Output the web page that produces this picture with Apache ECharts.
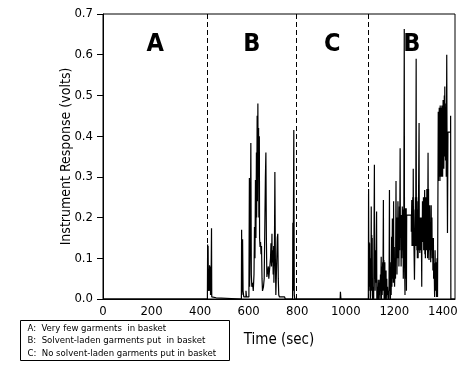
<!DOCTYPE html>
<html>
<head>
<meta charset="utf-8">
<script src="https://cdn.jsdelivr.net/npm/echarts@6/dist/echarts.min.js"></script>
<style>
html,body{margin:0;padding:0;background:#fff;}
#chart{width:467px;height:368px;}
</style>
</head>
<body>
<div id="chart"></div>
<script>
// ---- data ----
const xTicks = [0, 200, 400, 600, 800, 1000, 1200, 1400];
const yTicks = [0.0, 0.1, 0.2, 0.3, 0.4, 0.5, 0.6, 0.7];
const regionBounds = [0, 431, 795, 1094, 1450];      // seconds; inner ones are the dashed lines
const regionNames = ['A', 'B', 'C', 'B'];
const legendNotes = [
  'A:  Very few garments  in basket',
  'B:  Solvent-laden garments put  in basket',
  'C:  No solvent-laden garments put in basket'
];
// [time (sec), response (volts)]
const signalEarly = [
  [0,0],[430,0],
  [431,0.134],[432,0.02],[433,0.13],[434,0.035],[436,0.02],[437,0.03],[439,0.083],[440,0.02],[442,0.08],[443,0.01],[445,0.03],[447,0.174],[448,0.005],[452,0.003],[466,0.003],[468,0],
  [570,0],[571,0.17],[572,0.01],[575,0.147],[577,0.02],[580,0.005],[589,0.02],[591,0.005],[601,0.01],[603,0.297],[604,0.03],[607,0.162],[609,0.383],[611,0.06],[613,0.03],[616,0.04],[619,0.02],[622,0.06],[624,0.177],[626,0.10],[628,0.292],[630,0.15],[632,0.36],[633,0.2],[635,0.45],[636,0.24],[638,0.48],[639,0.30],[641,0.42],[642,0.20],[644,0.40],[645,0.15],[647,0.128],[649,0.14],[651,0.11],[653,0.13],[655,0.05],[657,0.02],[661,0.03],[664,0.05],[667,0.20],[669,0.30],[671,0.36],[673,0.15],[675,0.054],[681,0.08],[683,0.05],[688,0.05],[690,0.10],[692,0.137],[694,0.08],[696,0.16],[697,0.09],[699,0.12],[701,0.06],[703,0.13],[704,0.04],[706,0.1],[708,0.312],[710,0.1],[712,0.01],[715,0.08],[718,0.15],[720,0.16],[722,0.05],[724,0.01],[727,0.005],[748,0.005],[751,0],
  [781,0],[782,0.187],[783,0.02],[786,0.415],[788,0.01],[790,0],
  [977,0],[978,0.018],[980,0],[1093,0]
];
const signalLate = [
  [1094,0.27],[1095,0.10],[1096,0.14],[1097,0.03],[1098,0.137],[1099,0.02],[1100,0.10],[1101,0.0],[1102,0.01],[1104,0.08],[1105,0.227],[1106,0.02],[1107,0.157],[1108,0.05],[1109,0.15],[1110,0.0],[1113,0.03],[1115,0.0],
  [1118,0.33],[1119,0.05],[1120,0.12],[1121,0.02],[1122,0.12],[1123,0.04],[1125,0.10],[1127,0.215],[1128,0.0],[1131,0.03],[1132,0.0],[1134,0.047],[1135,0.0],[1137,0.04],[1138,0.01],[1140,0.047],[1141,0.0],[1143,0.06],[1144,0.02],[1146,0.104],[1147,0.0],[1149,0.08],[1150,0.01],[1152,0.09],[1153,0.02],[1155,0.243],[1156,0.03],[1157,0.096],[1158,0.0],[1159,0.07],[1160,0.01],[1161,0.09],[1162,0.0],[1163,0.06],[1164,0.02],[1166,0.07],[1167,0.0],[1169,0.05],[1170,0.01],[1172,0.03],[1174,0.0],[1176,0.02],[1178,0.0],
  [1180,0.268],[1181,0.02],[1183,0.05],[1184,0.0],[1186,0.09],[1187,0.01],[1189,0.153],[1190,0.03],[1192,0.198],[1193,0.05],[1195,0.13],[1196,0.04],[1197,0.24],[1198,0.06],[1200,0.128],[1201,0.03],[1203,0.09],[1205,0.05],[1207,0.29],[1208,0.10],[1210,0.15],[1211,0.06],[1212,0.20],[1213,0.10],[1215,0.24],[1216,0.10],[1218,0.20],[1219,0.08],[1221,0.227],[1222,0.12],[1224,0.37],[1225,0.15],[1227,0.206],[1228,0.08],[1230,0.206],[1231,0.10],[1233,0.227],[1234,0.12],[1236,0.22],[1237,0.05],[1239,0.15],
  [1241,0.663],[1242,0.10],[1244,0.01],[1245,0.223],[1247,0.05],[1249,0.223],[1250,0.02],[1251,0.206],
  [1270,0.165],[1272,0.243],[1273,0.13],[1274,0.20],[1275,0.14],[1276,0.25],[1277,0.13],[1278,0.32],[1279,0.15],[1280,0.22],[1281,0.13],[1283,0.047],[1285,0.15],[1287,0.25],[1288,0.13],
  [1290,0.59],[1291,0.14],[1292,0.25],[1293,0.12],[1294,0.24],[1295,0.10],[1296,0.22],[1297,0.13],[1298,0.10],[1300,0.10],
  [1302,0.432],[1303,0.12],[1304,0.20],[1305,0.113],[1306,0.20],[1307,0.12],[1309,0.19],[1311,0.2],[1313,0.03],[1314,0.20],[1315,0.15],[1316,0.24],[1317,0.14],[1318,0.22],[1319,0.16],[1320,0.25],[1321,0.12],[1322,0.24],[1323,0.15],[1325,0.268],[1326,0.11],[1327,0.22],[1328,0.10],[1330,0.25],[1331,0.14],[1332,0.24],[1333,0.12],[1334,0.27],[1335,0.15],[1336,0.24],[1337,0.10],
  [1339,0.359],[1340,0.20],[1341,0.27],[1342,0.12],[1343,0.096],[1344,0.22],[1345,0.14],[1346,0.23],[1347,0.12],[1349,0.14],[1350,0.09],[1352,0.23],[1353,0.12],[1355,0.20],[1356,0.10],[1358,0.15],[1359,0.07],[1361,0.15],[1362,0.05],[1364,0.088],[1366,0.005],[1368,0.12],[1370,0.02],[1372,0.09],[1374,0.005],[1376,0.10],[1378,0.005],
  [1381,0.46],[1382,0.29],[1383,0.45],[1384,0.30],[1385,0.47],[1386,0.31],[1387,0.46],[1388,0.29],[1389,0.475],[1390,0.30],[1391,0.44],[1392,0.32],[1393,0.47],[1394,0.30],[1396,0.475],[1397,0.33],[1398,0.45],[1399,0.30],[1401,0.489],[1402,0.33],[1403,0.46],[1404,0.32],[1406,0.50],[1407,0.35],[1408,0.522],[1409,0.36],[1410,0.48],[1411,0.34],[1413,0.47],[1414,0.30],
  [1416,0.60],[1417,0.42],[1419,0.162],[1421,0.41],[1432,0.45],[1433,0],[1450,0]
];

// ---- chart ----
const FONT = "'Liberation Sans Narrow','DejaVu Sans Condensed','Liberation Sans',sans-serif";
const signal = signalEarly.concat(signalLate);
const dividers = regionBounds.slice(1, -1);
const regionMarks = regionNames.map((n, i) => ({
  coord: [(regionBounds[i] + regionBounds[i + 1]) / 2, 0.625],
  value: n
}));

const chart = echarts.init(document.getElementById('chart'), null, {renderer: 'canvas'});
chart.setOption({
  animation: false,
  backgroundColor: '#fff',
  grid: {left: 103, top: 14, right: 12, bottom: 69, show: true, borderColor: '#000', borderWidth: 1, backgroundColor: 'transparent'},
  xAxis: {
    type: 'value', min: regionBounds[0], max: regionBounds[regionBounds.length - 1], interval: 200,
    name: 'Time (sec)', nameLocation: 'middle', nameGap: 34,
    nameTextStyle: {fontFamily: FONT, fontSize: 15, color: '#000'},
    axisLine: {show: true, lineStyle: {color: '#000', width: 1}},
    axisTick: {show: false},
    splitLine: {show: false},
    axisLabel: {color: '#000', fontFamily: FONT, fontSize: 13, margin: 6,
      formatter: v => xTicks.includes(v) ? String(v) : ''}
  },
  yAxis: {
    type: 'value', min: 0, max: 0.7, interval: 0.1,
    name: 'Instrument Response (volts)', nameLocation: 'middle', nameGap: 30,
    nameMoveOverlap: false,
    nameTextStyle: {fontFamily: FONT, fontSize: 14, color: '#000'},
    axisLine: {show: true, lineStyle: {color: '#000', width: 1}},
    axisTick: {show: true, inside: false, length: 6, lineStyle: {color: '#000'}},
    splitLine: {show: false},
    axisLabel: {color: '#000', fontFamily: FONT, fontSize: 13, margin: 10,
      formatter: v => yTicks.some(t => Math.abs(t - v) < 1e-9) ? v.toFixed(1) : ''}
  },
  series: [{
    type: 'line',
    data: signal,
    step: 'end',
    showSymbol: false,
    symbol: 'none',
    lineStyle: {color: '#000', width: 1.2},
    markLine: {
      silent: true,
      symbol: ['none', 'none'],
      label: {show: false},
      lineStyle: {color: '#000', width: 1, type: [5, 3]},
      data: dividers.map(x => ({xAxis: x}))
    },
    markPoint: {
      silent: true,
      symbol: 'rect', symbolSize: 1,
      itemStyle: {color: 'rgba(0,0,0,0)'},
      label: {show: true, position: 'inside', formatter: p => p.value,
        color: '#000', fontFamily: FONT, fontSize: 25, fontWeight: 'bold'},
      data: regionMarks
    }
  }],
  graphic: [{
    type: 'group', left: 20, top: 320,
    children: [
      {type: 'rect', shape: {x: 0, y: 0, width: 209, height: 40}, style: {fill: '#fff', stroke: '#000', lineWidth: 1}},
    ].concat(legendNotes.map((t, i) => ({
      type: 'text', x: 7, y: 8 + i * 12.5,
      style: {text: t, fill: '#000', font: '9.5px ' + FONT, textVerticalAlign: 'middle'}
    })))
  }]
});
</script>
</body>
</html>
